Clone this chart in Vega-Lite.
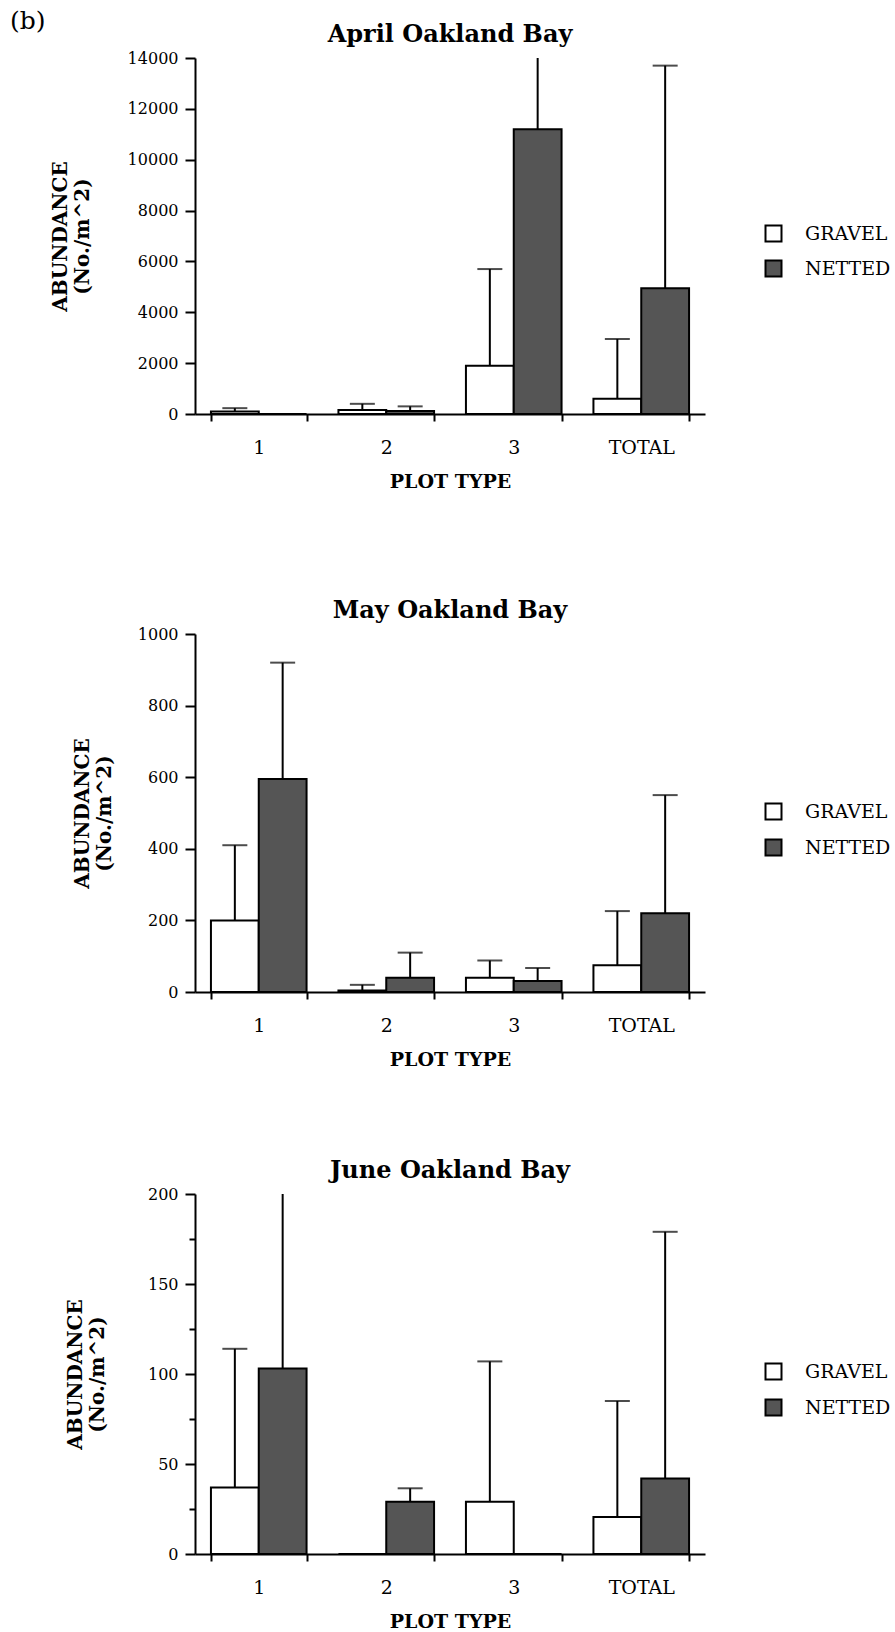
{
  "$schema": "https://vega.github.io/schema/vega-lite/v6.json",
  "padding": {"left": 10, "top": 9, "right": 5, "bottom": 2},
  "title": {"text": "(b)", "anchor": "start", "frame": "bounds", "font": "DejaVu Serif", "fontSize": 25, "fontWeight": "normal", "color": "black", "dx": -40, "dy": 1, "offset": -10},
  "spacing": 90,
  "datasets": {
    "apr": [
      {"plot": "1", "treatment": "GRAVEL", "mean": 100, "upper": 230},
      {"plot": "1", "treatment": "NETTED", "mean": 0, "upper": 0},
      {"plot": "2", "treatment": "GRAVEL", "mean": 160, "upper": 400},
      {"plot": "2", "treatment": "NETTED", "mean": 120, "upper": 300},
      {"plot": "3", "treatment": "GRAVEL", "mean": 1900, "upper": 5700},
      {"plot": "3", "treatment": "NETTED", "mean": 11200, "upper": 15000},
      {"plot": "TOTAL", "treatment": "GRAVEL", "mean": 600, "upper": 2950},
      {"plot": "TOTAL", "treatment": "NETTED", "mean": 4950, "upper": 13700}
    ],
    "may": [
      {"plot": "1", "treatment": "GRAVEL", "mean": 200, "upper": 410},
      {"plot": "1", "treatment": "NETTED", "mean": 595, "upper": 920},
      {"plot": "2", "treatment": "GRAVEL", "mean": 4, "upper": 20},
      {"plot": "2", "treatment": "NETTED", "mean": 40, "upper": 110},
      {"plot": "3", "treatment": "GRAVEL", "mean": 40, "upper": 88},
      {"plot": "3", "treatment": "NETTED", "mean": 31, "upper": 67},
      {"plot": "TOTAL", "treatment": "GRAVEL", "mean": 75, "upper": 226},
      {"plot": "TOTAL", "treatment": "NETTED", "mean": 220, "upper": 550}
    ],
    "jun": [
      {"plot": "1", "treatment": "GRAVEL", "mean": 37, "upper": 114},
      {"plot": "1", "treatment": "NETTED", "mean": 103, "upper": 230},
      {"plot": "2", "treatment": "GRAVEL", "mean": 0, "upper": 0},
      {"plot": "2", "treatment": "NETTED", "mean": 29, "upper": 36.5},
      {"plot": "3", "treatment": "GRAVEL", "mean": 29, "upper": 107},
      {"plot": "3", "treatment": "NETTED", "mean": 0, "upper": 0},
      {"plot": "TOTAL", "treatment": "GRAVEL", "mean": 20.5, "upper": 85},
      {"plot": "TOTAL", "treatment": "NETTED", "mean": 42, "upper": 179}
    ]
  },
  "config": {
    "font": "DejaVu Serif",
    "view": {"stroke": null},
    "title": {"font": "DejaVu Serif", "fontSize": 24, "fontWeight": "bold", "color": "black", "offset": 3},
    "axis": {"domainColor": "black", "domainWidth": 2, "tickColor": "black", "tickWidth": 2, "labelColor": "black", "titleColor": "black", "grid": false, "labelFont": "DejaVu Serif", "titleFont": "DejaVu Serif"},
    "axisX": {"labelAngle": 0, "labelFontSize": 19, "tickBand": "extent", "tickSize": 7, "labelPadding": 17, "titleFontSize": 19, "titleFontWeight": "bold", "titlePadding": 15, "titleLineHeight": 18},
    "axisY": {"labelFontSize": 16, "labelPadding": 7, "titleFontSize": 20, "titleFontWeight": "bold", "titleLineHeight": 22},
    "legend": {"orient": "none", "legendX": 569, "legendY": 168, "title": null, "symbolType": "square", "symbolSize": 256, "symbolStrokeColor": "black", "symbolStrokeWidth": 2, "labelFont": "DejaVu Serif", "labelFontSize": 19, "labelColor": "black", "labelOffset": 22, "rowPadding": 11, "padding": 0}
  },
  "resolve": {"scale": {"y": "independent", "fill": "independent", "x": "independent"}, "legend": {"fill": "independent"}},
  "vconcat": [
    {
      "width": 510, "height": 356,
      "title": "April Oakland Bay",
      "data": {"name": "apr"},
      "encoding": {
        "x": {"field": "plot", "type": "nominal", "sort": ["1", "2", "3", "TOTAL"], "scale": {"paddingInner": 0.25, "paddingOuter": 0.125}, "axis": {"title": ["PLOT TYPE", " "]}},
        "xOffset": {"field": "treatment", "type": "nominal", "sort": ["GRAVEL", "NETTED"], "scale": {"paddingInner": 0, "paddingOuter": 0}}
      },
      "layer": [
        {
          "mark": {"type": "bar", "stroke": "black", "strokeWidth": 2},
          "encoding": {
            "y": {"field": "mean", "type": "quantitative", "scale": {"domain": [0, 14000], "nice": false},
              "axis": {"title": ["ABUNDANCE", "(No./m^2)"], "titlePadding": 35, "values": [0,1000,2000,3000,4000,5000,6000,7000,8000,9000,10000,11000,12000,13000,14000], "format": "d", "labelExpr": "datum.value % 2000 === 0 ? datum.label : ''", "tickSize": {"condition": {"test": "datum.value % 2000 === 0", "value": 10}, "value": 6}}},
            "fill": {"field": "treatment", "type": "nominal", "scale": {"domain": ["GRAVEL", "NETTED"], "range": ["white", "#555555"]}, "legend": {"legendY": 166, "rowPadding": 10}}
          }
        },
        {
          "transform": [{"filter": "datum.upper > datum.mean"}],
          "mark": {"type": "rule", "color": "black", "strokeWidth": 2, "clip": true},
          "encoding": {"y": {"field": "mean", "type": "quantitative"}, "y2": {"field": "upper"}}
        },
        {
          "transform": [{"filter": "datum.upper > datum.mean"}],
          "mark": {"type": "tick", "orient": "horizontal", "color": "black", "size": 25, "thickness": 2, "clip": true},
          "encoding": {"y": {"field": "upper", "type": "quantitative"}}
        }
      ]
    },
    {
      "width": 510, "height": 358,
      "title": "May Oakland Bay",
      "data": {"name": "may"},
      "encoding": {
        "x": {"field": "plot", "type": "nominal", "sort": ["1", "2", "3", "TOTAL"], "scale": {"paddingInner": 0.25, "paddingOuter": 0.125}, "axis": {"title": "PLOT TYPE"}},
        "xOffset": {"field": "treatment", "type": "nominal", "sort": ["GRAVEL", "NETTED"], "scale": {"paddingInner": 0, "paddingOuter": 0}}
      },
      "layer": [
        {
          "mark": {"type": "bar", "stroke": "black", "strokeWidth": 2},
          "encoding": {
            "y": {"field": "mean", "type": "quantitative", "scale": {"domain": [0, 1000], "nice": false},
              "axis": {"title": ["ABUNDANCE", "(No./m^2)"], "titlePadding": 23, "values": [0,100,200,300,400,500,600,700,800,900,1000], "format": "d", "labelExpr": "datum.value % 200 === 0 ? datum.label : ''", "tickSize": {"condition": {"test": "datum.value % 200 === 0", "value": 10}, "value": 6}}},
            "fill": {"field": "treatment", "type": "nominal", "scale": {"domain": ["GRAVEL", "NETTED"], "range": ["white", "#555555"]}}
          }
        },
        {
          "transform": [{"filter": "datum.upper > datum.mean"}],
          "mark": {"type": "rule", "color": "black", "strokeWidth": 2, "clip": true},
          "encoding": {"y": {"field": "mean", "type": "quantitative"}, "y2": {"field": "upper"}}
        },
        {
          "transform": [{"filter": "datum.upper > datum.mean"}],
          "mark": {"type": "tick", "orient": "horizontal", "color": "black", "size": 25, "thickness": 2, "clip": true},
          "encoding": {"y": {"field": "upper", "type": "quantitative"}}
        }
      ]
    },
    {
      "width": 510, "height": 360,
      "title": "June Oakland Bay",
      "data": {"name": "jun"},
      "encoding": {
        "x": {"field": "plot", "type": "nominal", "sort": ["1", "2", "3", "TOTAL"], "scale": {"paddingInner": 0.25, "paddingOuter": 0.125}, "axis": {"title": "PLOT TYPE"}},
        "xOffset": {"field": "treatment", "type": "nominal", "sort": ["GRAVEL", "NETTED"], "scale": {"paddingInner": 0, "paddingOuter": 0}}
      },
      "layer": [
        {
          "mark": {"type": "bar", "stroke": "black", "strokeWidth": 2},
          "encoding": {
            "y": {"field": "mean", "type": "quantitative", "scale": {"domain": [0, 200], "nice": false},
              "axis": {"title": ["ABUNDANCE", "(No./m^2)"], "titlePadding": 40, "values": [0,25,50,75,100,125,150,175,200], "format": "d", "labelExpr": "datum.value % 50 === 0 ? datum.label : ''", "tickSize": {"condition": {"test": "datum.value % 50 === 0", "value": 10}, "value": 6}}},
            "fill": {"field": "treatment", "type": "nominal", "scale": {"domain": ["GRAVEL", "NETTED"], "range": ["white", "#555555"]}}
          }
        },
        {
          "transform": [{"filter": "datum.upper > datum.mean"}],
          "mark": {"type": "rule", "color": "black", "strokeWidth": 2, "clip": true},
          "encoding": {"y": {"field": "mean", "type": "quantitative"}, "y2": {"field": "upper"}}
        },
        {
          "transform": [{"filter": "datum.upper > datum.mean"}],
          "mark": {"type": "tick", "orient": "horizontal", "color": "black", "size": 25, "thickness": 2, "clip": true},
          "encoding": {"y": {"field": "upper", "type": "quantitative"}}
        }
      ]
    }
  ]
}
